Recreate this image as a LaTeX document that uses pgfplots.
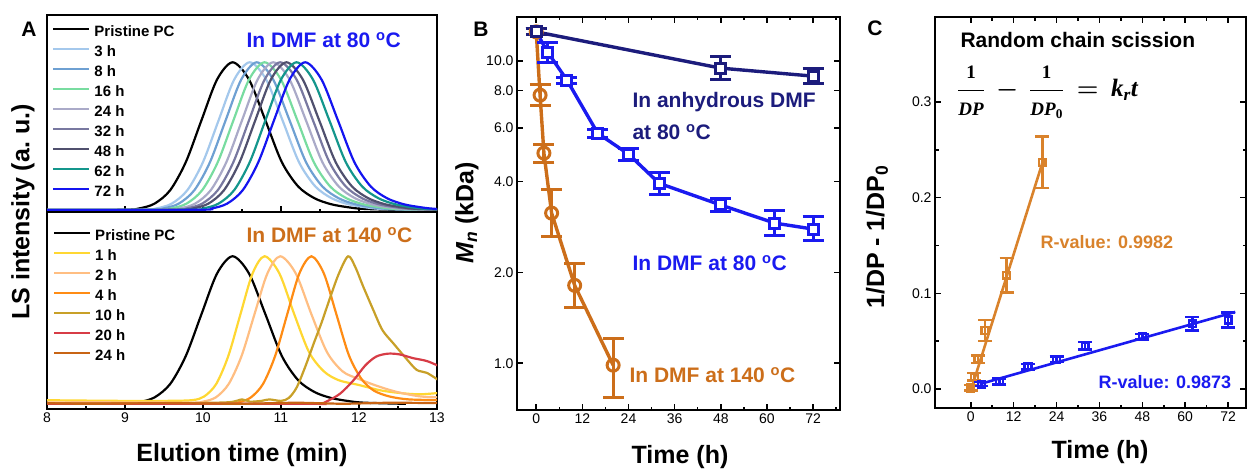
\documentclass[border=0pt]{standalone}
\usepackage{pgfplots}
\pgfplotsset{compat=1.18}
\usepackage{pgfplotstable}
\usepackage{fontspec}
\setmainfont{Liberation Sans}
\newfontfamily\serif{Liberation Serif}

\newcommand{\fsz}[1]{\fontsize{#1bp}{#1bp}\selectfont}
\newsavebox{\scbox}

% panel A colours
\definecolor{cA3}{HTML}{A4C8EC}
\definecolor{cA8}{HTML}{6EA0D2}
\definecolor{cA16}{HTML}{78DCA0}
\definecolor{cA24}{HTML}{AAAAC8}
\definecolor{cA32}{HTML}{7878A0}
\definecolor{cA48}{HTML}{50506E}
\definecolor{cA62}{HTML}{14968C}
\definecolor{cA72}{HTML}{1414F0}
\definecolor{cB1}{HTML}{FFD732}
\definecolor{cB2}{HTML}{FFBE82}
\definecolor{cB4}{HTML}{FF8C14}
\definecolor{cB10}{HTML}{C8A028}
\definecolor{cB20}{HTML}{D73C46}
\definecolor{cB24}{HTML}{C86414}
% panels B and C
\definecolor{navy}{HTML}{1C1C7C}
\definecolor{dblue}{HTML}{1A1AF0}
\definecolor{dorange}{HTML}{CC6E1A}
\definecolor{corange}{HTML}{D9822B}

% LS traces, 80 C series (shared intensity column)
\pgfplotstableread{
I     x0     x3     x8     x16    x24    x32    x48    x62    x72
0     7.90   7.90   7.90   7.90   7.90   7.90   7.90   7.90   7.90
0.002 8.98   9.20   9.29   9.39   9.50   9.59   9.67   9.80   9.91
0.011 9.18   9.40   9.49   9.59   9.70   9.79   9.87   10.00  10.11
0.044 9.38   9.60   9.69   9.79   9.90   9.99   10.07  10.20  10.31
0.135 9.58   9.80   9.89   9.99   10.10  10.19  10.27  10.40  10.51
0.325 9.78   10.00  10.09  10.19  10.30  10.39  10.47  10.60  10.71
0.607 9.98   10.20  10.29  10.39  10.50  10.59  10.67  10.80  10.91
0.883 10.18  10.40  10.49  10.59  10.70  10.79  10.87  11.00  11.11
1     10.38  10.60  10.69  10.79  10.90  10.99  11.07  11.20  11.31
0.883 10.59  10.81  10.90  11.00  11.11  11.20  11.28  11.41  11.52
0.607 10.80  11.02  11.11  11.21  11.32  11.41  11.49  11.62  11.73
0.325 11.01  11.23  11.32  11.42  11.53  11.62  11.70  11.83  11.94
0.16  11.22  11.44  11.53  11.63  11.74  11.83  11.91  12.04  12.15
0.08  11.43  11.65  11.74  11.84  11.95  12.04  12.12  12.25  12.36
0.04  11.64  11.86  11.95  12.05  12.16  12.25  12.33  12.46  12.57
0.02  11.85  12.07  12.16  12.26  12.37  12.46  12.54  12.67  12.78
0.008 12.06  12.28  12.37  12.47  12.58  12.67  12.75  12.88  12.99
0     12.60  12.80  12.90  13.00  13.10  13.20  13.30  13.40  13.50
}\topA

\pgfplotsset{
  panel/.style={
    scale only axis, anchor=north west,
    axis line style={line width=2.2bp},
    tick align=inside,
    major tick length=6bp, minor tick length=3.5bp,
    tick style={line width=1.5bp, black},
    tick label style={font=\fsz{14}},
    /pgf/number format/assume math mode=true,
  },
  curve/.style={line width=2.2bp, smooth, no markers},
  Aleg/.style={
    legend cell align=left,
    legend style={draw=none, fill=none, at={#1}, anchor=north west,
      inner sep=0bp, row sep=6bp, font=\bfseries\fsz{15},
      nodes={inner sep=0bp, text height=11bp, text depth=3bp},
      /tikz/every odd column/.append style={column sep=4bp}},
    legend image code/.code={\draw[##1, line width=2.2bp] (0bp,4bp) -- (36bp,4bp);},
  },
  errB/.style={error bars/.cd, y dir=both, y explicit,
    error bar style={line width=3bp},
    error mark options={rotate=90, mark size=10.5bp, line width=3bp}},
  errC/.style={error bars/.cd, y dir=both, y explicit,
    error bar style={line width=2.6bp},
    error mark options={rotate=90, mark size=7bp, line width=2.6bp}},
}

\begin{document}
\sbox{\scbox}{\fsz{25}\boldmath$\displaystyle
  \frac{\hbox{\fsz{19}\serif\bfseries 1}}{\hbox{\fsz{19}\serif\bfseries\itshape DP}}
  \,-\,\frac{\hbox{\fsz{19}\serif\bfseries 1}}{\hbox{\fsz{19}\serif\bfseries\itshape DP\textsubscript{\upshape 0}}}
  \,=\,\hbox{\serif\bfseries\itshape k\textsubscript{r}t}$}%
\begin{tikzpicture}
\useasboundingbox (0,0) rectangle (1248bp,-469bp);

% ---------- A, top: 80 C ----------
\begin{axis}[panel, Aleg={(0.013,0.947)},
  at={(47bp,-15bp)}, width=390bp, height=197bp,
  xmin=8, xmax=13, ymin=-0.013, ymax=1.32,
  xtick={8,...,13}, minor xtick={8.5,9.5,...,12.5}, xticklabels={},
  xtick pos=left, ytick=\empty]
\addplot[curve, black] table[x=x0, y=I] {\topA};
\addplot[curve, cA3]   table[x=x3, y=I] {\topA};
\addplot[curve, cA8]   table[x=x8, y=I] {\topA};
\addplot[curve, cA16]  table[x=x16, y=I] {\topA};
\addplot[curve, cA24]  table[x=x24, y=I] {\topA};
\addplot[curve, cA32]  table[x=x32, y=I] {\topA};
\addplot[curve, cA48]  table[x=x48, y=I] {\topA};
\addplot[curve, cA62]  table[x=x62, y=I] {\topA};
\addplot[curve, cA72]  table[x=x72, y=I] {\topA};
\legend{Pristine PC, 3 h, 8 h, 16 h, 24 h, 32 h, 48 h, 62 h, 72 h}
\end{axis}

% ---------- A, bottom: 140 C ----------
\begin{axis}[panel, Aleg={(0.015,0.911)},
  at={(47bp,-212bp)}, width=390bp, height=197bp,
  xmin=8, xmax=13, ymin=-0.035, ymax=1.3,
  xtick={8,...,13}, minor xtick={8.5,9.5,...,12.5},
  xtick pos=left, ytick=\empty]
\addplot[curve, black] table[x=x0, y=I] {\topA};
\addplot[curve, cB1] coordinates {(7.9,0.025) (8.5,0.022) (9.0,0.02) (9.5,0.02) (9.86,0.025)
  (10.015,0.05) (10.17,0.135) (10.325,0.325) (10.48,0.607) (10.635,0.883) (10.79,1)
  (10.98,0.883) (11.17,0.607) (11.36,0.35) (11.55,0.22) (11.74,0.16) (11.98,0.13)
  (12.29,0.09) (12.59,0.07) (12.8,0.065) (13.05,0.075)};
\addplot[curve, cB2] coordinates {(7.9,0.01) (9.0,0.01) (9.85,0.008) (10.0,0.015)
  (10.165,0.044) (10.33,0.135) (10.495,0.325) (10.66,0.607) (10.825,0.883) (10.99,1)
  (11.19,0.883) (11.39,0.607) (11.59,0.35) (11.79,0.22) (11.99,0.17) (12.24,0.12)
  (12.49,0.08) (12.79,0.05) (13.05,0.045)};
\addplot[curve, cB4] coordinates {(7.9,0.005) (9.0,0.005) (10.3,0.005) (10.46,0.011)
  (10.615,0.044) (10.77,0.135) (10.925,0.325) (11.08,0.607) (11.235,0.883) (11.39,1)
  (11.55,0.883) (11.71,0.607) (11.87,0.33) (12.03,0.17) (12.19,0.09) (12.39,0.05)
  (12.64,0.03) (13.05,0.025)};
\addplot[curve, cB10] coordinates {(7.9,0.005) (9.5,0.005) (10.3,0.01) (10.5,0.03)
  (10.6,0.015) (10.75,0.02) (10.85,0.03) (11.0,0.02) (11.1,0.04) (11.2,0.11) (11.31,0.25)
  (11.42,0.41) (11.52,0.55) (11.63,0.72) (11.74,0.88) (11.86,1.0) (11.95,0.93)
  (12.05,0.80) (12.18,0.64) (12.3,0.50) (12.44,0.41) (12.6,0.31) (12.74,0.23)
  (12.87,0.21) (13.05,0.15)};
\addplot[curve, cB20] coordinates {(7.9,0) (11.3,0) (11.5,0) (11.6,0.02) (11.76,0.07)
  (11.93,0.16) (12.08,0.26) (12.22,0.32) (12.37,0.34) (12.52,0.335) (12.69,0.31)
  (12.87,0.29) (13.05,0.25)};
\addplot[line width=2.2bp, no markers, cB24] coordinates {(7.9,0.005) (8.5,0.0) (9.5,0.005)
  (10.5,0.0) (11.2,0.008) (11.8,0.0) (12.4,0.008) (13.05,0.005)};
\legend{Pristine PC, 1 h, 2 h, 4 h, 10 h, 20 h, 24 h}
\end{axis}

% ---------- B ----------
\begin{axis}[panel, at={(517bp,-17bp)}, width=323bp, height=393bp,
  xmin=-5, xmax=79, ymode=log, ymin=0.7, ymax=14,
  xtick={0,12,...,72}, minor xtick={6,18,...,78},
  ytick={1,2,4,6,8,10}, yticklabels={1.0,2.0,4.0,6.0,8.0,10.0}]
\addplot[dorange, line width=3.4bp, mark=o, mark size=6bp, mark options={line width=3bp}, errB]
  coordinates {(0,12.5) += (0,0.29) -= (0,0.28)
    (1,7.72) += (0,0.64) -= (0,0.59)
    (2,4.96) += (0,0.35) -= (0,0.33)
    (4,3.14) += (0,0.62) -= (0,0.51)
    (10,1.81) += (0,0.33) -= (0,0.28)
    (20,0.985) += (0,0.225) -= (0,0.213)};
\addplot[dblue, line width=3.4bp, mark=square*, mark size=5bp, mark options={line width=3bp, fill=white}, errB]
  coordinates {(0,12.5) += (0,0.29) -= (0,0.28)
    (3,10.7) += (0,0.85) -= (0,0.78)
    (8,8.65) += (0,0.20) -= (0,0.19)
    (16,5.77) += (0,0.18) -= (0,0.18)
    (24,4.92) += (0,0.23) -= (0,0.22)
    (32,3.94) += (0,0.34) -= (0,0.32)
    (48,3.34) += (0,0.16) -= (0,0.15)
    (62,2.91) += (0,0.30) -= (0,0.27)
    (72,2.78) += (0,0.27) -= (0,0.24)};
\addplot[navy, line width=3.4bp, mark=square*, mark size=5bp, mark options={line width=3bp, fill=white}, errB]
  coordinates {(0,12.5) += (0,0.29) -= (0,0.28)
    (48,9.48) += (0,0.87) -= (0,0.80)
    (72,8.92) += (0,0.53) -= (0,0.50)};
\end{axis}

% ---------- C ----------
\begin{axis}[panel, at={(935bp,-17bp)}, width=311bp, height=391bp,
  xmin=-10, xmax=77, ymin=-0.02, ymax=0.389,
  xtick={0,12,...,72}, minor xtick={6,18,...,78},
  ytick={0,0.1,0.2,0.3}, minor y tick num=1,
  yticklabel style={/pgf/number format/.cd, fixed, fixed zerofill, precision=1}]
\addplot[corange, line width=2.6bp, no markers] coordinates {(0,-0.002) (20,0.236)};
\addplot[dblue, line width=2.6bp, no markers] coordinates {(2.5,0.005) (74,0.0805)};
\addplot[corange, only marks, mark=square, mark size=3.4bp, mark options={line width=2.4bp}, errC]
  coordinates {(0,0.001) +- (0,0.003) (1,0.0126) +- (0,0.004) (2,0.031) +- (0,0.004)
    (4,0.061) +- (0,0.011) (10,0.119) +- (0,0.018) (20,0.237) +- (0,0.027)};
\addplot[dblue, only marks, mark=square, mark size=3.4bp, mark options={line width=2.4bp}, errC]
  coordinates {(3,0.005) +- (0,0.002) (8,0.0076) +- (0,0.003) (16,0.023) +- (0,0.003)
    (24,0.031) +- (0,0.003) (32,0.045) +- (0,0.004) (48,0.0546) +- (0,0.003)
    (62,0.068) +- (0,0.007) (72,0.072) +- (0,0.008)};
\end{axis}

% ---------- labels ----------
\node[font=\bfseries\fsz{21}] at (29bp,-29bp) {A};
\node[font=\bfseries\fsz{21}] at (481bp,-29bp) {B};
\node[font=\bfseries\fsz{21}] at (875bp,-28bp) {C};
\node[rotate=90, font=\bfseries\fsz{25}] at (23bp,-212bp) {LS intensity (a.\ u.)};
\node[font=\bfseries\fsz{25}] at (242bp,-455bp) {Elution time (min)};
\node[rotate=90, font=\bfseries\fsz{25}] at (467bp,-213bp) {\textit{M}\textsubscript{\textit{n}} (kDa)};
\node[font=\bfseries\fsz{25}] at (680bp,-457bp) {Time (h)};
\node[rotate=90, font=\bfseries\fsz{25}] at (877bp,-237bp) {1/DP - 1/DP\textsubscript{0}};
\node[font=\bfseries\fsz{25}] at (1100bp,-452bp) {Time (h)};
\node[anchor=west, text=dblue, font=\bfseries\fsz{21}] at (243bp,-40bp) {In DMF at 80 \textsuperscript{o}C};
\node[anchor=west, text=dorange, font=\bfseries\fsz{21}] at (243bp,-235bp) {In DMF at 140 \textsuperscript{o}C};
\node[anchor=west, text=navy, font=\bfseries\fsz{21}] at (629bp,-102bp) {In anhydrous DMF};
\node[anchor=west, text=navy, font=\bfseries\fsz{21}] at (629bp,-132bp) {at 80 \textsuperscript{o}C};
\node[anchor=west, text=dblue, font=\bfseries\fsz{21}] at (629bp,-263bp) {In DMF at 80 \textsuperscript{o}C};
\node[anchor=west, text=dorange, font=\bfseries\fsz{21}] at (626bp,-375bp) {In DMF at 140 \textsuperscript{o}C};
\node[anchor=west, font=\bfseries\fsz{21}] at (957bp,-40bp) {Random chain scission};
\node[anchor=west, inner sep=0bp] at (957bp,-92bp) {\usebox{\scbox}};
\node[anchor=west, text=corange, font=\bfseries\fsz{18}] at (1037bp,-242bp) {R-value: 0.9982};
\node[anchor=west, text=dblue, font=\bfseries\fsz{18}] at (1095bp,-382bp) {R-value: 0.9873};
\end{tikzpicture}
\end{document}
